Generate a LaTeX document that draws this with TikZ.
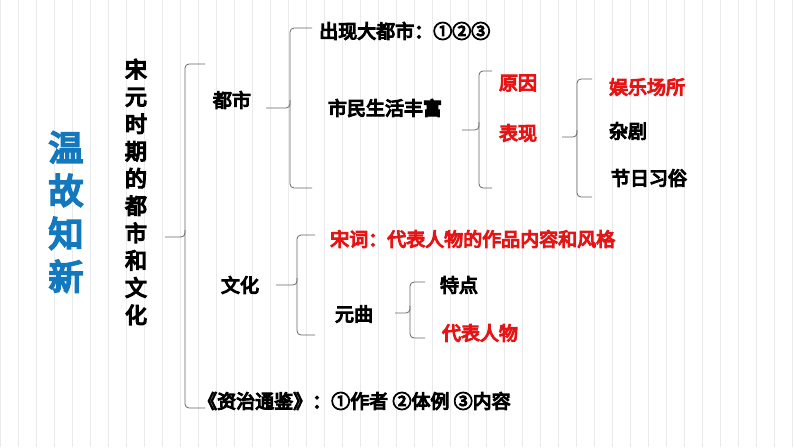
\documentclass[tikz,border=0pt]{standalone}
\usepackage{fontspec}
\setmainfont{Noto Sans CJK SC}[FakeBold=6]
\begin{document}
\begin{tikzpicture}[x=1pt,y=-1pt,
  t/.style={font=\fontsize{19}{21}\selectfont,inner sep=0pt},
  r/.style={t,text={rgb,255:red,230;green,20;blue,20}},
  br/.style={draw=gray!80!black,line width=0.8pt,rounded corners=4pt}]
\useasboundingbox (0,0) rectangle (794,447);
\draw[blue!8!gray!15,line width=0.4pt,step=18] (0,0) grid (794,447);
% left title
\node[font=\fontsize{35}{43}\selectfont,text={rgb,255:red,20;green,120;blue,190},align=center,inner sep=0pt] (title) at (66,212) {温\\故\\知\\新};
\node[t,align=center,font=\fontsize{22}{27.3}\selectfont] (main) at (136,192) {宋\\元\\时\\期\\的\\都\\市\\和\\文\\化};
% big bracket
\draw[br] (205,64) -- (185,64) -- (185,237) -- (165,237);
\draw[br] (185,230) -- (185,408) -- (205,408);
\node[t] (dushi) at (232,100) {都市};
\node[t,anchor=west] (zizhi) at (198,401) {《资治通鉴》：①作者 ②体例 ③内容};
\node[t] (wenhua) at (240,285) {文化};
% dushi bracket
\draw[br] (312,28) -- (290,28) -- (290,108) -- (266,108);
\draw[br] (290,100) -- (290,188) -- (312,188);
\node[t,anchor=west] (chuxian) at (319,31) {出现大都市：①②③};
\node[t] (shimin) at (385,108) {市民生活丰富};
% shimin bracket
\draw[br] (492,71) -- (479,71) -- (479,130) -- (462,130);
\draw[br] (479,122) -- (479,188) -- (492,188);
\node[r] (yuanyin) at (518,83) {原因};
\node[r] (biaoxian) at (518,133) {表现};
% biaoxian bracket
\draw[br] (592,79) -- (577,79) -- (577,137) -- (562,137);
\draw[br] (577,130) -- (577,197) -- (592,197);
\node[r] (yule) at (647,87) {娱乐场所};
\node[t] (zaju) at (628,131) {杂剧};
\node[t] (jieri) at (649,178) {节日习俗};
% wenhua bracket
\draw[br] (315,235) -- (297,235) -- (297,285) -- (276,285);
\draw[br] (297,278) -- (297,335) -- (315,335);
\node[r,anchor=west] (songci) at (330,239) {宋词：代表人物的作品内容和风格};
\node[t] (yuanqu) at (354,314) {元曲};
% yuanqu bracket
\draw[br] (425,282) -- (410,282) -- (410,313) -- (395,313);
\draw[br] (410,306) -- (410,338) -- (425,338);
\node[t] (tedian) at (459,285) {特点};
\node[r] (daibiao) at (480,333) {代表人物};
\end{tikzpicture}
\end{document}
